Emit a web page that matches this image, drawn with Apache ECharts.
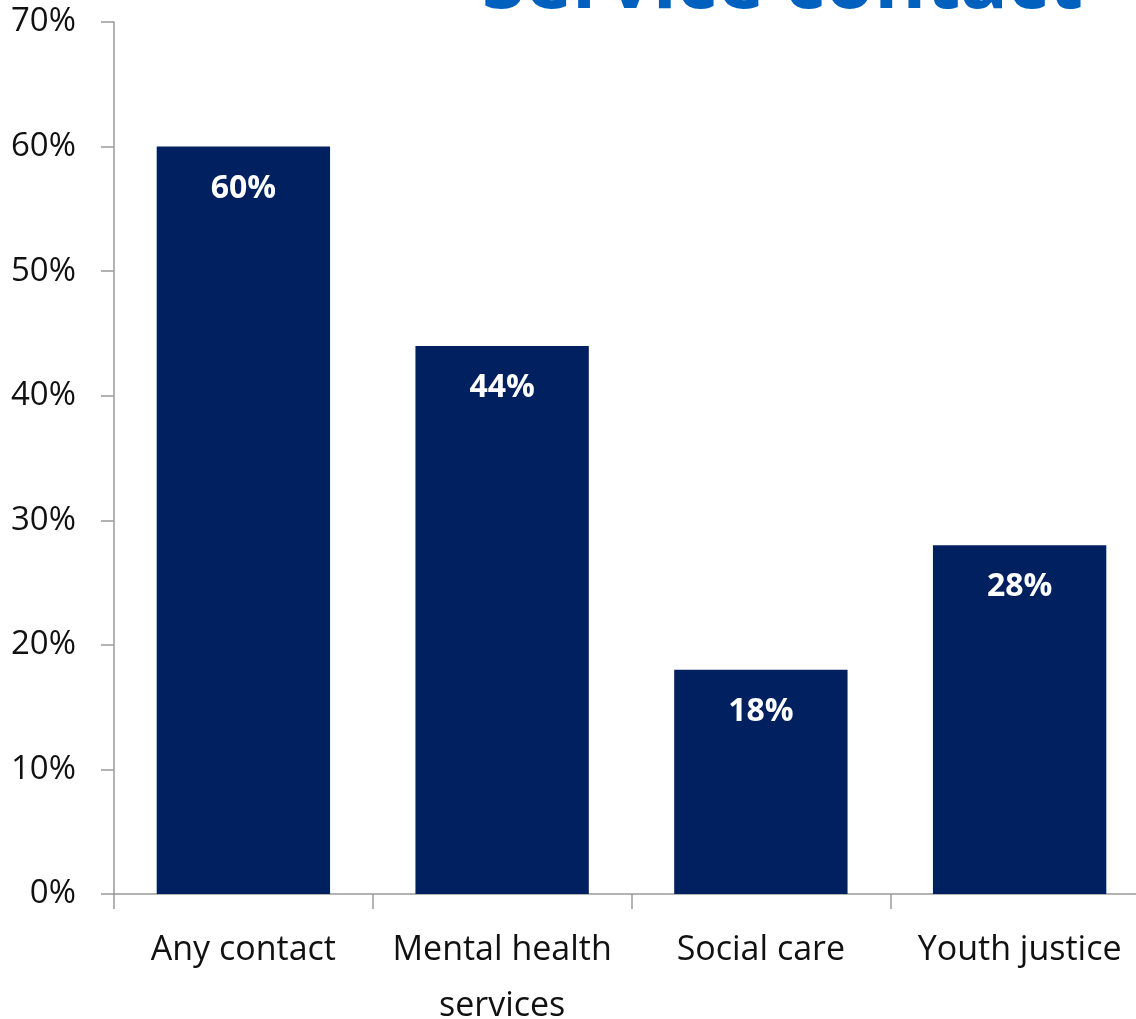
<!DOCTYPE html>
<html>
<head>
<meta charset="utf-8">
<style>
  html, body { margin: 0; padding: 0; background: #fff; }
  #chart { width: 1136px; height: 1019px; }
</style>
<script src="https://cdn.jsdelivr.net/npm/echarts@6/dist/echarts.min.js"></script>
</head>
<body>
<div id="chart"></div>
<script>
const categories = ['Any contact', 'Mental health\nservices', 'Social care', 'Youth justice']
const shares = [60, 44, 18, 28]
const titleText = 'Service contact'

const chart = echarts.init(document.getElementById('chart'))
const font = '"Open Sans", "Liberation Sans", sans-serif'

chart.setOption({
  animation: false,
  graphic: [
    {
      type: 'text',
      x: 1083,
      y: 25,
      style: {
        text: titleText,
        fill: '#0060BE',
        font: 'bold 79px ' + font,
        align: 'right',
        verticalAlign: 'bottom'
      }
    }
  ],
  grid: {
    left: 114,
    right: -13,
    top: 22,
    bottom: 125,
    outerBoundsMode: 'none'
  },
  xAxis: {
    type: 'category',
    data: categories,
    axisLine: { lineStyle: { color: '#9a9a9a', width: 1.5 } },
    axisTick: { show: true, alignWithLabel: false, length: 15, lineStyle: { color: '#9a9a9a', width: 1.5 } },
    axisLabel: {
      color: '#111',
      fontFamily: font,
      fontSize: 34,
      lineHeight: 56,
      margin: 28,
      interval: 0
    }
  },
  yAxis: {
    type: 'value',
    min: 0,
    max: 70,
    interval: 10,
    splitLine: { show: false },
    axisLine: { show: true, lineStyle: { color: '#9a9a9a', width: 1.5 } },
    axisTick: { show: true, length: 13, lineStyle: { color: '#9a9a9a', width: 1.5 } },
    axisLabel: {
      color: '#111',
      fontFamily: font,
      fontSize: 33,
      margin: 38,
      padding: [8, 0, 0, 0],
      formatter: '{value}%'
    }
  },
  series: [
    {
      type: 'bar',
      data: shares,
      barCategoryGap: '33%',
      itemStyle: { color: '#00205F' },
      label: {
        show: true,
        position: 'insideTop',
        distance: 26,
        color: '#fff',
        fontFamily: font,
        fontWeight: 'bold',
        fontSize: 32,
        formatter: '{c}%'
      }
    }
  ]
})
</script>
</body>
</html>
